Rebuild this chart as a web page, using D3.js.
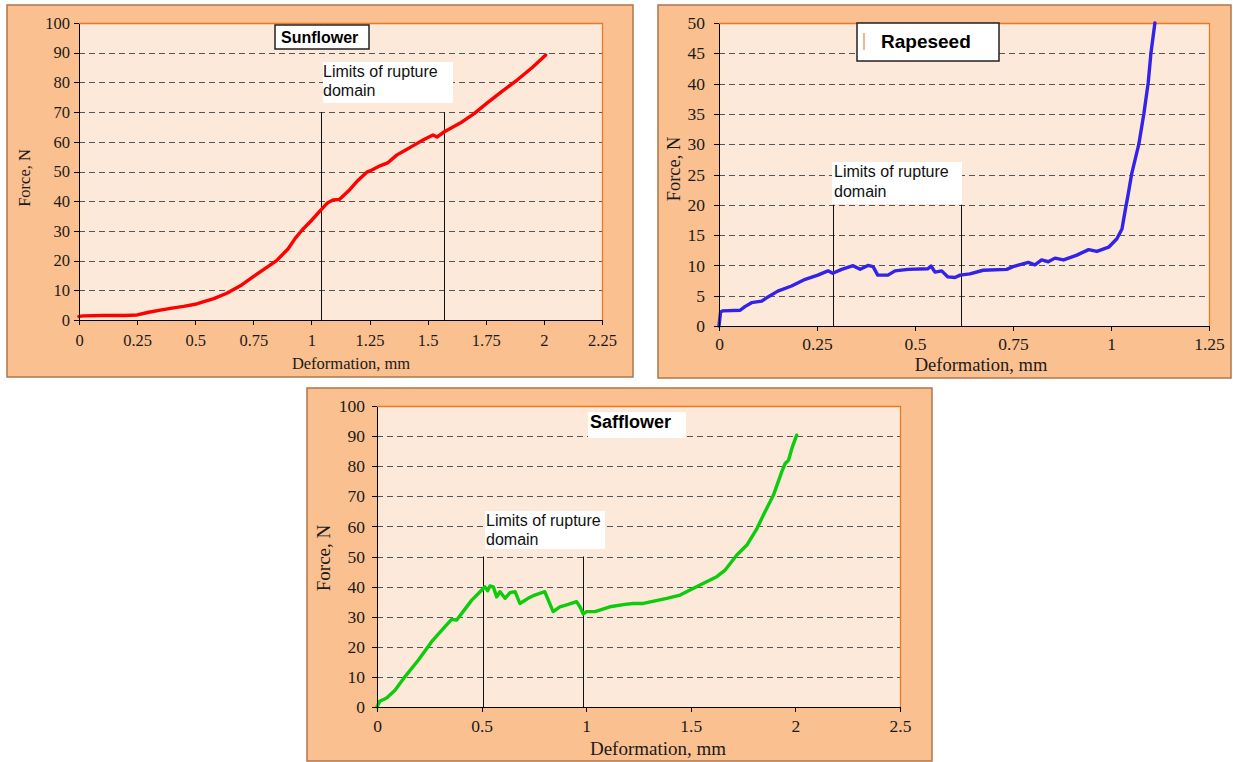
<!DOCTYPE html>
<html lang="en">
<meta charset="utf-8">
<style>
body { margin: 0; background: #fff; }
.axis path, .axis line { stroke: #000; shape-rendering: crispEdges; }
.axis text { font-family: "Liberation Serif", "Times New Roman", serif; fill: #1a1a1a; }
.ttl { font-family: "Liberation Serif", "Times New Roman", serif; fill: #1a1a1a; }
.note { font-family: "Liberation Sans", Arial, sans-serif; fill: #111; }
.name { font-family: "Liberation Sans", Arial, sans-serif; font-weight: bold; fill: #000; }
</style>
<body>
<script src="https://d3js.org/d3.v7.min.js"></script>
<script>
// Sunflower
var sunDef   = [0, 0.02, 0.1, 0.2, 0.25, 0.3, 0.35, 0.4, 0.45, 0.5, 0.53, 0.58, 0.636, 0.7, 0.75, 0.8, 0.85, 0.9, 0.93, 0.96, 1.0, 1.04, 1.07, 1.093, 1.12, 1.16, 1.2, 1.239, 1.26, 1.295, 1.33, 1.368, 1.4, 1.44, 1.48, 1.523, 1.54, 1.57, 1.64, 1.7, 1.755, 1.82, 1.885, 1.95, 2.008];
var sunForce = [1.2, 1.4, 1.5, 1.5, 1.7, 2.6, 3.3, 4.0, 4.6, 5.3, 6.0, 7.2, 9.0, 11.8, 14.6, 17.3, 20.0, 24, 27.5, 30.3, 33.5, 37, 39.5, 40.4, 40.6, 43.5, 47, 49.8, 50.5, 51.9, 53, 55.6, 57, 58.8, 60.6, 62.3, 61.6, 63.3, 66.3, 69.5, 73, 77, 80.8, 85, 89.2];
var sunLimits = [1.04, 1.57];
var sunLimitTop = 70;
var sunXTicks = [0, 0.25, 0.5, 0.75, 1, 1.25, 1.5, 1.75, 2, 2.25];
var sunYTicks = [0, 10, 20, 30, 40, 50, 60, 70, 80, 90, 100];

// Rapeseed
var rapeDef   = [0, 0.004, 0.01, 0.054, 0.066, 0.083, 0.109, 0.125, 0.15, 0.185, 0.22, 0.252, 0.278, 0.29, 0.313, 0.342, 0.36, 0.38, 0.393, 0.405, 0.431, 0.449, 0.482, 0.533, 0.541, 0.551, 0.568, 0.584, 0.602, 0.615, 0.64, 0.674, 0.734, 0.75, 0.789, 0.806, 0.823, 0.84, 0.857, 0.879, 0.913, 0.943, 0.964, 0.994, 1.015, 1.028, 1.036, 1.044, 1.053, 1.071, 1.084, 1.095, 1.102, 1.112];
var rapeForce = [0, 2.3, 2.5, 2.6, 3.2, 3.85, 4.1, 4.8, 5.75, 6.6, 7.7, 8.4, 9.1, 8.7, 9.35, 9.95, 9.35, 10.0, 9.8, 8.4, 8.4, 9.1, 9.35, 9.45, 9.9, 8.9, 9.1, 8.1, 8.0, 8.4, 8.6, 9.2, 9.35, 9.8, 10.5, 10.1, 10.9, 10.6, 11.2, 10.9, 11.7, 12.6, 12.3, 13.0, 14.4, 16.0, 19.0, 21.8, 25.2, 30.0, 35.1, 40.2, 45.1, 50];
var rapeLimits = [0.291, 0.617];
var rapeLimitTop = 20;
var rapeXTicks = [0, 0.25, 0.5, 0.75, 1, 1.25];
var rapeYTicks = [0, 5, 10, 15, 20, 25, 30, 35, 40, 45, 50];

// Safflower
var safDef   = [0, 0.013, 0.046, 0.086, 0.134, 0.198, 0.261, 0.325, 0.357, 0.381, 0.405, 0.453, 0.5, 0.516, 0.529, 0.54, 0.556, 0.572, 0.588, 0.612, 0.636, 0.66, 0.683, 0.722, 0.754, 0.802, 0.842, 0.874, 0.914, 0.954, 0.97, 0.986, 1.002, 1.042, 1.113, 1.185, 1.225, 1.273, 1.385, 1.449, 1.544, 1.624, 1.664, 1.72, 1.768, 1.816, 1.847, 1.895, 1.935, 1.951, 1.967, 1.983, 2.006];
var safForce = [0, 1.9, 3.0, 5.6, 10.1, 15.6, 21.7, 26.7, 29.1, 28.9, 31.1, 35.5, 38.8, 39.9, 38.6, 40.2, 39.9, 36.6, 38.3, 36.1, 38.0, 38.3, 34.4, 36.1, 37.2, 38.3, 31.7, 33.3, 34.1, 35.0, 33.3, 30.9, 31.7, 31.7, 33.3, 34.1, 34.4, 34.4, 36.1, 37.2, 40.5, 43.3, 45.5, 50.5, 53.8, 59.3, 63.8, 70.4, 78.2, 80.9, 82, 85.9, 90.3];
var safLimits = [0.507, 0.985];
var safLimitTop = 50;
var safXTicks = [0, 0.5, 1, 1.5, 2, 2.5];
var safYTicks = [0, 10, 20, 30, 40, 50, 60, 70, 80, 90, 100];

var svg = d3.select("body").append("svg")
  .attr("width", 1233)
  .attr("height", 762);

function panel(p) {
  var g = svg.append("g");

  // outer frame and plot area
  g.append("rect")
    .attr("x", p.frame[0]).attr("y", p.frame[1])
    .attr("width", p.frame[2]).attr("height", p.frame[3])
    .attr("fill", "#fac08f").attr("stroke", "#b0764a").attr("stroke-width", 1.5);
  g.append("rect")
    .attr("x", p.plot[0]).attr("y", p.plot[1])
    .attr("width", p.plot[2]).attr("height", p.plot[3])
    .attr("fill", "#fde9d9");

  var x = d3.scaleLinear().domain([0, p.xTicks[p.xTicks.length - 1]])
    .range([p.plot[0], p.plot[0] + p.plot[2]]);
  var y = d3.scaleLinear().domain([0, p.yTicks[p.yTicks.length - 1]])
    .range([p.plot[1] + p.plot[3], p.plot[1]]);

  // dashed grid
  g.selectAll(".grid")
    .data(p.yTicks.slice(1, -1))
    .enter().append("line")
    .attr("x1", x.range()[0]).attr("x2", x.range()[1])
    .attr("y1", function(d) { return Math.round(y(d)) + 0.5; })
    .attr("y2", function(d) { return Math.round(y(d)) + 0.5; })
    .attr("stroke", "#555").attr("stroke-width", 1.2)
    .attr("stroke-dasharray", "6,4");

  // orange border top / right
  g.append("path")
    .attr("d", "M" + x.range()[0] + "," + (y.range()[1] + 0.5) + "H" + (x.range()[1] + 0.5) + "V" + y.range()[0])
    .attr("fill", "none").attr("stroke", "#ec7a24").attr("stroke-width", 1.3);

  // title box
  var t = p.title;
  g.append("rect")
    .attr("x", t.box[0]).attr("y", t.box[1])
    .attr("width", t.box[2]).attr("height", t.box[3])
    .attr("fill", "#fff")
    .attr("stroke", t.border ? "#222" : "none").attr("stroke-width", 1.5);
  if (t.mark) {
    g.append("line")
      .attr("x1", t.mark).attr("x2", t.mark)
      .attr("y1", t.box[1] + 10).attr("y2", t.box[1] + 27)
      .attr("stroke", "#e8883a").attr("stroke-width", 1.2);
  }
  g.append("text").attr("class", "name")
    .attr("x", t.tx).attr("y", t.ty)
    .style("font-size", t.size + "px")
    .text(t.label);

  // rupture note
  var n = p.note;
  g.append("rect")
    .attr("x", n.box[0]).attr("y", n.box[1])
    .attr("width", n.box[2]).attr("height", n.box[3])
    .attr("fill", "#fff");
  g.selectAll(".note")
    .data(["Limits of rupture", "domain"])
    .enter().append("text").attr("class", "note")
    .attr("x", n.tx)
    .attr("y", function(d, i) { return n.ty + i * n.lh; })
    .style("font-size", "16px")
    .text(function(d) { return d; });

  // limit lines
  g.selectAll(".lim")
    .data(p.limits)
    .enter().append("line")
    .attr("x1", function(d) { return Math.round(x(d)) + 0.5; })
    .attr("x2", function(d) { return Math.round(x(d)) + 0.5; })
    .attr("y1", y(p.limitTop)).attr("y2", y(0))
    .attr("stroke", "#111").attr("stroke-width", 1);

  // curve
  var line = d3.line()
    .x(function(d, i) { return x(p.xs[i]); })
    .y(function(d, i) { return y(p.ys[i]); });
  g.append("path")
    .attr("d", line(p.xs))
    .attr("fill", "none").attr("stroke", p.color)
    .attr("stroke-width", 3.4)
    .attr("stroke-linejoin", "round").attr("stroke-linecap", "round");

  // axes
  var ax = g.append("g").attr("class", "axis")
    .attr("transform", "translate(0," + y.range()[0] + ")")
    .call(d3.axisBottom(x).tickValues(p.xTicks).tickFormat(function(d) { return d; })
      .tickSize(5).tickSizeOuter(0));
  ax.selectAll("text").attr("dy", null).attr("y", p.xLabY).style("font-size", p.tick + "px");

  var ay = g.append("g").attr("class", "axis")
    .attr("transform", "translate(" + x.range()[0] + ",0)")
    .call(d3.axisLeft(y).tickValues(p.yTicks).tickFormat(function(d) { return d; })
      .tickSize(5).tickPadding(p.yPad).tickSizeOuter(0));
  ay.selectAll("text").style("font-size", p.tick + "px");

  // axis titles
  g.append("text").attr("class", "ttl")
    .attr("x", p.xTitle[0]).attr("y", p.xTitle[1])
    .attr("text-anchor", "middle")
    .style("font-size", p.ttl + "px")
    .text("Deformation, mm");
  g.append("text").attr("class", "ttl")
    .attr("transform", "translate(" + p.yTitle[0] + "," + p.yTitle[1] + ") rotate(-90)")
    .attr("text-anchor", "middle")
    .style("font-size", p.ttl + "px")
    .text("Force, N");
}

panel({
  frame: [7, 5, 626, 372], plot: [79, 23, 523, 297],
  xTicks: sunXTicks, yTicks: sunYTicks, xs: sunDef, ys: sunForce, color: "#ff0000",
  limits: sunLimits, limitTop: sunLimitTop,
  title: { box: [275, 25, 94, 24], border: true, label: "Sunflower", tx: 281, ty: 43, size: 16 },
  note: { box: [323, 62, 130, 41], tx: 323, ty: 77, lh: 19 },
  tick: 16.5, ttl: 16.5, xLabY: 26, yPad: 4,
  xTitle: [351, 369], yTitle: [30, 178]
});

panel({
  frame: [658, 5, 573, 373], plot: [719, 23, 490, 303],
  xTicks: rapeXTicks, yTicks: rapeYTicks, xs: rapeDef, ys: rapeForce, color: "#3322e8",
  limits: rapeLimits, limitTop: rapeLimitTop,
  title: { box: [857, 23, 142, 38], border: true, mark: 864, label: "Rapeseed", tx: 881, ty: 48, size: 19 },
  note: { box: [832, 162, 130, 42], tx: 834, ty: 177, lh: 20 },
  tick: 17.5, ttl: 18.5, xLabY: 24, yPad: 9,
  xTitle: [981, 371], yTitle: [680, 169]
});

panel({
  frame: [307, 388, 625, 373], plot: [377, 406, 523, 301],
  xTicks: safXTicks, yTicks: safYTicks, xs: safDef, ys: safForce, color: "#0ccc0c",
  limits: safLimits, limitTop: safLimitTop,
  title: { box: [588, 412, 98, 26], border: false, label: "Safflower", tx: 590, ty: 428, size: 18 },
  note: { box: [485, 511, 120, 38], tx: 486, ty: 526, lh: 19 },
  tick: 17.5, ttl: 19, xLabY: 25, yPad: 7,
  xTitle: [658, 755], yTitle: [330, 558]
});
</script>
</body>
</html>
